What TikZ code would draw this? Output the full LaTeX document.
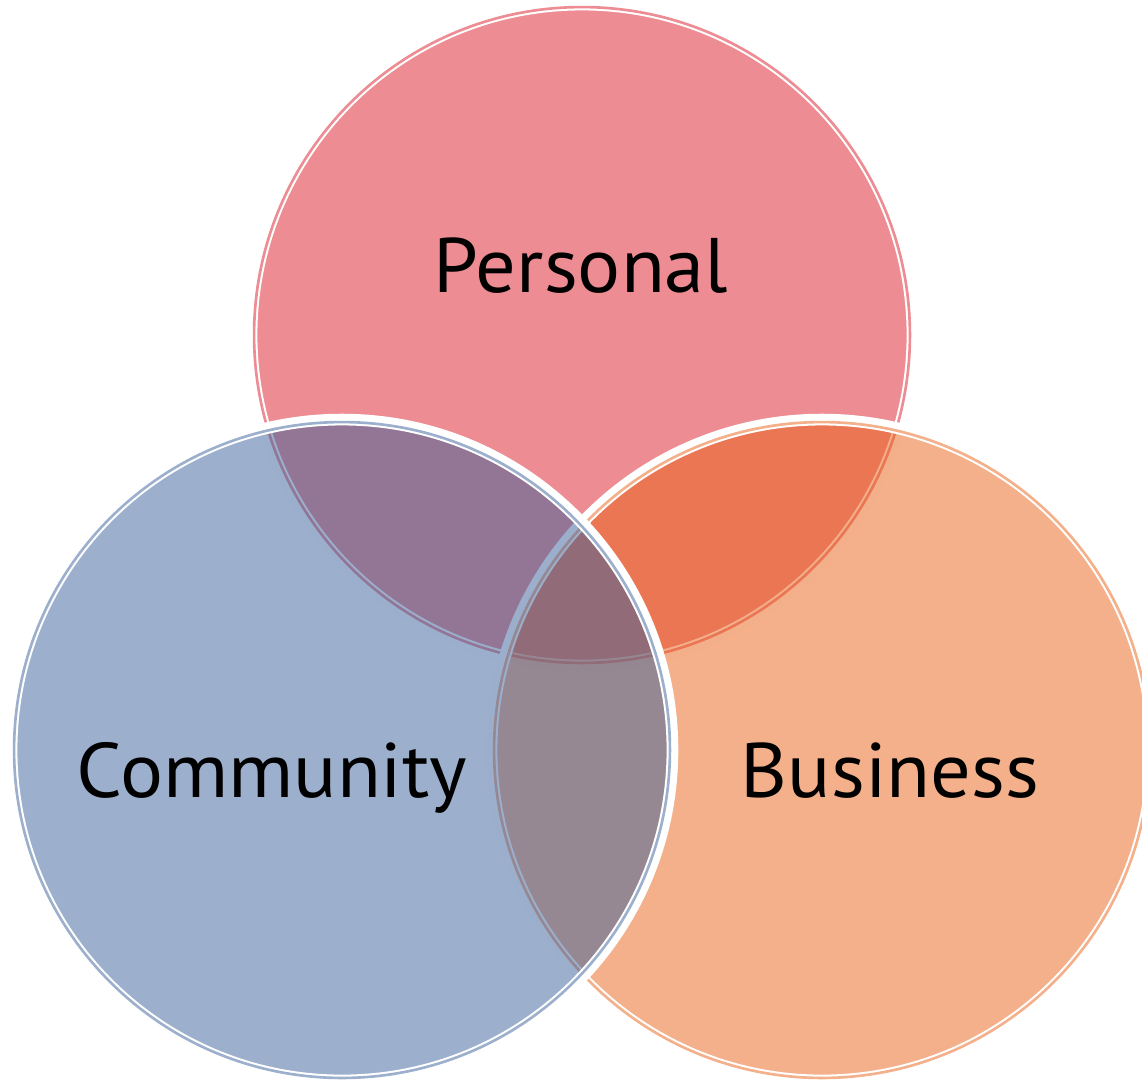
\documentclass[tikz,border=0pt]{standalone}
\usepackage{fontspec}
\setmainfont[FakeStretch=1.04]{PT Sans}
\definecolor{personalred}{RGB}{219,25,39}
\definecolor{businessorange}{RGB}{233,97,23}
\definecolor{communityblue}{RGB}{57,97,155}
\tikzset{
  vennfill/.style={fill=#1, fill opacity=.5},
  vennrim/.style={draw=white, line width=6.65pt},
  vennline/.style={draw=#1!50!white, line width=1.5pt},
  vennlabel/.style={anchor=base, font=\fontsize{44}{50}\selectfont, text=black}
}
\begin{document}
\begin{tikzpicture}[x=0.02cm,y=-0.02cm]
  \useasboundingbox (0,0) rectangle (1142,1080);
  % Personal
  \fill[vennfill=personalred] (582,335) circle (6.56cm);
  \draw[vennrim] (582,335) circle (6.61cm);
  \draw[vennline=personalred] (582,335) circle (6.56cm);
  % Business
  \fill[vennfill=businessorange] (822,750) circle (6.56cm);
  \draw[vennrim] (822,750) circle (6.61cm);
  \draw[vennline=businessorange] (822,750) circle (6.56cm);
  % Community
  \fill[vennfill=communityblue] (342,750) circle (6.56cm);
  \draw[vennrim] (342,750) circle (6.61cm);
  \draw[vennline=communityblue] (342,750) circle (6.56cm);
  % labels
  \node[vennlabel] (personal) at (581,292) {Personal};
  \node[vennlabel] (community) at (272,797) {Community};
  \node[vennlabel] (business) at (890,797) {Business};
\end{tikzpicture}
\end{document}
